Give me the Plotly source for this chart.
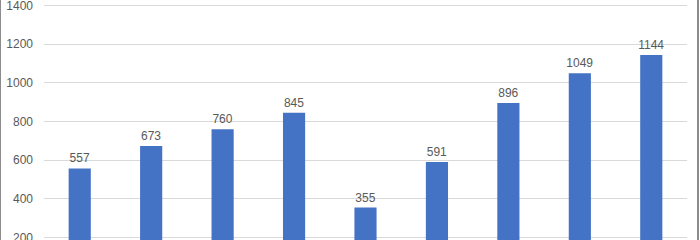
import plotly.graph_objects as go

categories = ["A", "B", "C", "D", "E", "F", "G", "H", "I"]
values = [557, 673, 760, 845, 355, 591, 896, 1049, 1144]
y_ticks = [200, 400, 600, 800, 1000, 1200, 1400]

fig = go.Figure(go.Bar(
    x=categories, y=values,
    marker=dict(color="#4472C4", line=dict(width=0)),
    text=[str(v) for v in values],
    textposition="outside",
    constraintext="none",
    textfont=dict(family="Liberation Sans, Arial", size=12, color="#595959"),
    cliponaxis=False,
))

fig.update_layout(
    width=700, height=240,
    margin=dict(l=44, r=13, t=3, b=0, autoexpand=False),
    paper_bgcolor="white", plot_bgcolor="white",
    bargap=0.69,
    showlegend=False,
    font=dict(family="Liberation Sans, Arial", size=12, color="#595959"),
    xaxis=dict(showticklabels=False, showgrid=False, zeroline=False, showline=False, ticks="",
               automargin=False),
    yaxis=dict(range=[187, 1413], tickvals=y_ticks, showgrid=True, gridcolor="#D9D9D9",
               gridwidth=1, zeroline=False, showline=False, ticks="",
               ticklabelstandoff=10, ticklabeloverflow="allow", automargin=False,
               tickfont=dict(family="Liberation Sans, Arial", size=12, color="#595959")),
    shapes=[
        dict(type="line", xref="paper", yref="paper", x0=-44/643, x1=-44/643, y0=-0.1, y1=1.1,
             line=dict(color="#8C8C8C", width=2)),
        dict(type="line", xref="paper", yref="paper", x0=(698-44)/643, x1=(698-44)/643, y0=-0.1, y1=1.1,
             line=dict(color="#8C8C8C", width=2)),
    ],
)

fig.write_html("out.html")
